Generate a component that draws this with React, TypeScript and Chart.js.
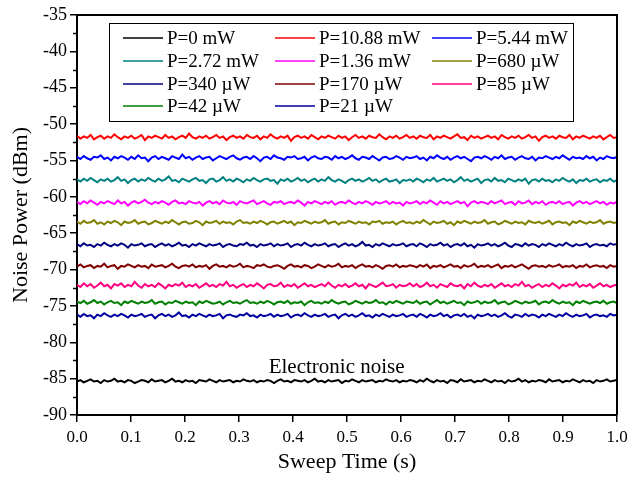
import React, { useEffect, useRef } from "react";
import { Chart, registerables } from "chart.js";

Chart.register(...registerables);

const FONT = '"Liberation Serif", "Times New Roman", serif';

const labels = [
  "P=0 mW", "P=10.88 mW", "P=5.44 mW",
  "P=2.72 mW", "P=1.36 mW", "P=680 \u00b5W",
  "P=340 \u00b5W", "P=170 \u00b5W", "P=85 \u00b5W",
  "P=42 \u00b5W", "P=21 \u00b5W",
];

const colors = [
  "#000000", "#FF0000", "#0000FF",
  "#008080", "#FF00FF", "#808000",
  "#000080", "#800000", "#FF0080",
  "#008000", "#0000A0",
];

const xTicks = [0, 0.1, 0.2, 0.3, 0.4, 0.5, 0.6, 0.7, 0.8, 0.9, 1.0];
const yTicks = [-90, -85, -80, -75, -70, -65, -60, -55, -50, -45, -40, -35];
const yMinorTicks = [-87.5, -82.5, -77.5, -72.5, -67.5, -62.5, -57.5, -52.5, -47.5, -42.5, -37.5];

const p0 = [-85.4,-85.2,-85.5,-85.3,-85.1,-85.4,-85.3,-85.6,-85.2,-85.4,
-85.3,-85.0,-85.4,-85.3,-85.5,-85.2,-85.3,-85.6,-85.4,-85.2,
-85.3,-85.5,-85.1,-85.4,-85.3,-85.2,-85.5,-85.3,-85.0,-85.4,
-85.3,-85.5,-85.2,-85.4,-85.3,-85.6,-85.2,-85.3,-85.4,-85.1,
-85.3,-85.5,-85.2,-85.4,-85.3,-85.2,-85.5,-85.3,-85.4,-85.1,
-85.3,-85.4,-85.2,-85.5,-85.3,-85.4,-85.2,-85.3,-85.6,-85.3,
-85.1,-85.4,-85.3,-85.5,-85.2,-85.3,-85.4,-85.2,-85.5,-85.3,
-85.0,-85.4,-85.3,-85.5,-85.2,-85.4,-85.3,-85.2,-85.6,-85.3,
-85.4,-85.1,-85.3,-85.5,-85.2,-85.4,-85.3,-85.2,-85.5,-85.3,
-85.4,-85.1,-85.3,-85.4,-85.2,-85.5,-85.3,-85.4,-85.2,-85.3,
-85.5,-85.2,-85.4,-85.0,-85.3,-85.5,-85.2,-85.4,-85.3,-85.6,
-85.2,-85.3,-85.5,-85.1,-85.4,-85.3,-85.2,-85.5,-85.3,-85.4,
-85.1,-85.3,-85.5,-85.2,-85.4,-85.3,-85.6,-85.2,-85.4,-85.3,
-85.0,-85.4,-85.2,-85.5,-85.3,-85.4,-85.2,-85.3,-85.5,-85.1,
-85.4,-85.3,-85.2,-85.5,-85.3,-85.4,-85.1,-85.3,-85.5,-85.2,
-85.4,-85.3,-85.6,-85.2,-85.4,-85.3,-85.1,-85.4,-85.3,-85.2];

const p10880 = [-51.6,-52.0,-51.7,-51.9,-51.5,-52.1,-51.8,-51.6,-52.0,-51.7,
-51.9,-51.4,-51.8,-52.1,-51.7,-51.9,-51.6,-52.0,-51.8,-51.5,
-52.2,-51.7,-51.9,-51.6,-51.8,-52.0,-51.5,-51.9,-51.7,-52.1,
-51.8,-51.6,-51.9,-51.3,-51.8,-52.0,-51.7,-51.9,-51.6,-52.0,
-51.8,-51.5,-51.9,-51.7,-52.2,-51.8,-51.6,-51.9,-51.7,-52.0,
-51.5,-51.8,-51.9,-51.6,-52.1,-51.7,-51.9,-51.4,-51.8,-52.0,
-51.7,-51.9,-51.6,-52.3,-51.8,-51.6,-51.9,-51.7,-52.0,-51.5,
-51.8,-52.1,-51.7,-51.9,-51.6,-51.8,-52.0,-51.6,-51.9,-51.7,
-52.2,-51.8,-51.5,-51.9,-51.7,-52.0,-51.6,-51.8,-51.9,-51.4,
-51.8,-52.1,-51.7,-51.9,-51.6,-52.0,-51.8,-51.5,-51.9,-51.7,
-52.0,-51.6,-51.8,-51.9,-51.5,-52.1,-51.7,-51.9,-51.6,-51.8,
-52.0,-51.7,-51.4,-51.9,-51.8,-52.2,-51.6,-51.9,-51.7,-52.0,
-51.8,-51.6,-51.9,-51.7,-52.1,-51.5,-51.8,-52.0,-51.7,-51.9,
-51.6,-52.0,-51.8,-51.5,-51.9,-51.7,-52.3,-51.8,-51.6,-51.9,
-51.7,-52.0,-51.6,-51.8,-51.9,-51.5,-52.1,-51.7,-51.9,-51.6,
-51.8,-52.0,-51.7,-51.9,-51.6,-52.1,-51.8,-51.5,-51.9,-51.8];

const p5440 = [-54.5,-54.8,-54.4,-54.7,-54.9,-54.5,-54.6,-54.3,-54.8,-54.6,
-55.0,-54.5,-54.7,-54.4,-54.6,-54.9,-54.5,-54.8,-54.3,-54.7,
-54.6,-55.1,-54.6,-54.4,-54.8,-54.5,-54.7,-54.9,-54.4,-54.6,
-54.8,-54.2,-54.7,-54.5,-54.9,-54.6,-54.4,-54.8,-54.6,-54.5,
-55.0,-54.7,-54.4,-54.6,-54.8,-54.5,-54.3,-54.7,-54.9,-54.6,
-54.5,-54.8,-54.4,-54.7,-55.1,-54.6,-54.5,-54.8,-54.3,-54.6,
-54.7,-54.9,-54.5,-54.6,-54.4,-54.8,-54.7,-54.5,-55.0,-54.6,
-54.4,-54.7,-54.8,-54.5,-54.6,-54.9,-54.4,-54.7,-54.5,-54.8,
-54.6,-54.3,-54.7,-54.9,-54.5,-54.6,-54.8,-54.4,-54.7,-55.0,
-54.6,-54.5,-54.8,-54.7,-54.4,-54.6,-54.9,-54.5,-54.7,-54.6,
-54.4,-54.8,-54.6,-55.0,-54.5,-54.7,-54.3,-54.6,-54.8,-54.5,
-54.9,-54.6,-54.4,-54.7,-54.5,-54.8,-55.1,-54.6,-54.5,-54.7,
-54.4,-54.6,-54.9,-54.5,-54.7,-54.3,-54.8,-54.6,-54.5,-54.9,
-54.6,-54.4,-54.7,-54.8,-54.5,-55.0,-54.6,-54.7,-54.4,-54.6,
-54.8,-54.5,-54.7,-54.3,-54.6,-54.9,-54.5,-54.7,-54.6,-54.8,
-54.4,-54.7,-54.5,-55.0,-54.6,-54.8,-54.4,-54.6,-54.7,-54.5];

const p2720 = [-57.6,-57.9,-57.5,-57.8,-57.4,-57.7,-58.0,-57.6,-57.8,-57.5,
-57.9,-57.7,-57.3,-57.8,-57.6,-58.1,-57.7,-57.5,-57.9,-57.6,
-57.8,-57.4,-57.7,-57.9,-57.5,-57.8,-57.6,-57.2,-57.8,-57.7,
-58.0,-57.5,-57.7,-57.9,-57.6,-57.4,-57.8,-57.7,-58.1,-57.6,
-57.5,-57.9,-57.7,-57.3,-57.8,-57.6,-57.9,-57.5,-57.7,-58.0,
-57.6,-57.8,-57.4,-57.7,-57.9,-57.6,-57.5,-57.8,-57.7,-58.2,
-57.6,-57.8,-57.5,-57.9,-57.7,-57.4,-57.8,-57.6,-58.0,-57.7,
-57.5,-57.9,-57.6,-57.8,-57.3,-57.7,-57.9,-57.6,-57.8,-58.1,
-57.7,-57.5,-57.8,-57.6,-57.9,-57.7,-57.4,-57.8,-57.6,-58.0,
-57.7,-57.5,-57.9,-57.8,-57.6,-58.1,-57.7,-57.8,-57.6,-57.9,
-57.5,-57.7,-58.0,-57.6,-57.8,-57.4,-57.9,-57.7,-57.5,-57.8,
-57.6,-58.0,-57.7,-57.3,-57.8,-57.6,-57.9,-57.7,-57.5,-58.1,
-57.7,-57.6,-57.9,-57.4,-57.8,-57.7,-58.0,-57.5,-57.7,-57.9,
-57.6,-57.8,-57.5,-58.2,-57.7,-57.6,-57.9,-57.5,-57.8,-57.7,
-58.0,-57.6,-57.8,-57.4,-57.7,-57.9,-57.6,-58.1,-57.7,-57.8,
-57.5,-57.9,-57.7,-57.6,-58.0,-57.7,-57.8,-57.5,-57.9,-57.7];

const p1360 = [-60.7,-61.0,-60.6,-60.9,-60.5,-60.8,-61.1,-60.7,-60.9,-60.6,
-60.8,-61.0,-60.5,-60.9,-60.7,-61.2,-60.8,-60.6,-60.9,-60.7,
-60.4,-60.8,-61.0,-60.7,-60.9,-60.6,-60.8,-61.1,-60.7,-60.5,
-60.9,-60.8,-61.0,-60.6,-60.8,-60.9,-60.7,-61.2,-60.8,-60.6,
-60.9,-60.7,-61.0,-60.5,-60.8,-60.9,-60.7,-61.1,-60.6,-60.8,
-60.9,-60.7,-60.5,-61.0,-60.8,-60.6,-60.9,-61.1,-60.7,-60.8,
-60.6,-61.0,-60.8,-60.7,-60.9,-60.5,-60.8,-61.2,-60.7,-60.9,
-60.6,-60.8,-61.0,-60.7,-60.9,-60.6,-61.1,-60.8,-60.7,-60.9,
-60.5,-60.8,-61.0,-60.7,-60.9,-60.6,-60.8,-61.1,-60.7,-60.9,
-60.8,-60.6,-61.0,-60.7,-60.9,-60.8,-61.2,-60.7,-60.9,-60.8,
-60.6,-61.0,-60.7,-60.9,-60.5,-60.8,-61.1,-60.6,-60.9,-60.7,
-61.0,-60.8,-60.6,-60.9,-60.7,-61.3,-60.8,-60.6,-60.9,-60.7,
-60.8,-61.0,-60.6,-60.9,-60.7,-60.5,-61.0,-60.8,-60.7,-61.1,
-60.6,-60.9,-60.8,-60.5,-61.0,-60.7,-60.9,-60.6,-61.1,-60.8,
-60.7,-60.9,-60.6,-61.0,-60.8,-60.7,-61.2,-60.8,-60.6,-60.9,
-60.7,-61.0,-60.8,-60.6,-60.9,-60.7,-61.1,-60.8,-60.9,-60.7];

const p680 = [-63.4,-63.7,-63.3,-63.6,-63.5,-63.2,-63.7,-63.5,-63.8,-63.4,
-63.6,-63.3,-63.5,-63.9,-63.4,-63.6,-63.5,-63.2,-63.7,-63.5,
-63.4,-63.8,-63.6,-63.3,-63.5,-63.7,-63.4,-63.6,-63.2,-63.5,
-63.8,-63.5,-63.4,-63.7,-63.6,-63.3,-63.5,-63.9,-63.4,-63.6,
-63.5,-63.3,-63.7,-63.4,-63.6,-63.5,-63.8,-63.4,-63.2,-63.6,
-63.5,-63.7,-63.4,-63.6,-63.3,-63.5,-63.8,-63.5,-63.4,-63.7,
-63.5,-63.3,-63.6,-63.4,-63.9,-63.5,-63.6,-63.3,-63.5,-63.7,
-63.4,-63.6,-63.5,-63.2,-63.7,-63.5,-63.4,-63.8,-63.5,-63.6,
-63.3,-63.5,-63.7,-63.4,-63.6,-63.5,-63.8,-63.4,-63.5,-63.3,
-63.7,-63.5,-63.6,-63.4,-63.8,-63.5,-63.3,-63.6,-63.5,-63.7,
-63.4,-63.6,-63.2,-63.5,-63.8,-63.4,-63.6,-63.5,-63.3,-63.7,
-63.5,-63.9,-63.4,-63.6,-63.3,-63.5,-63.7,-63.4,-63.6,-63.5,
-63.2,-63.7,-63.5,-63.4,-63.8,-63.6,-63.3,-63.5,-63.7,-63.4,
-63.6,-63.5,-63.8,-63.3,-63.5,-63.6,-63.4,-63.7,-63.5,-63.3,
-63.8,-63.5,-63.4,-63.6,-63.5,-63.9,-63.4,-63.6,-63.3,-63.5,
-63.7,-63.4,-63.6,-63.5,-63.2,-63.7,-63.5,-63.4,-63.6,-63.5];

const p340 = [-66.5,-66.8,-66.4,-66.7,-66.6,-66.9,-66.5,-66.7,-66.3,-66.6,
-66.8,-66.5,-66.7,-66.4,-66.6,-67.0,-66.5,-66.7,-66.6,-66.4,
-66.8,-66.6,-66.5,-66.9,-66.6,-66.4,-66.7,-66.5,-66.8,-66.6,
-66.3,-66.7,-66.6,-66.9,-66.5,-66.7,-66.4,-66.6,-66.8,-66.5,
-66.7,-66.6,-66.4,-66.9,-66.6,-66.5,-66.7,-66.8,-66.5,-66.6,
-66.3,-66.7,-66.6,-66.9,-66.5,-66.7,-66.6,-66.4,-66.8,-66.5,
-66.7,-66.6,-66.4,-66.9,-66.6,-66.5,-66.7,-66.3,-66.6,-66.8,
-66.5,-66.7,-66.6,-66.4,-66.8,-66.6,-66.5,-66.9,-66.6,-66.4,
-66.7,-66.5,-66.8,-66.6,-66.2,-66.7,-66.6,-66.9,-66.5,-66.7,
-66.4,-66.6,-66.8,-66.5,-66.7,-66.6,-66.4,-66.8,-66.6,-66.5,
-66.8,-66.4,-66.6,-66.9,-66.5,-66.7,-66.6,-66.3,-66.7,-66.5,
-66.9,-66.6,-66.5,-66.7,-66.4,-66.8,-66.6,-67.0,-66.5,-66.7,
-66.6,-66.4,-66.7,-66.5,-66.8,-66.6,-66.3,-66.7,-66.9,-66.5,
-66.6,-66.8,-66.4,-66.7,-66.5,-66.6,-66.9,-66.5,-66.7,-66.4,
-66.6,-66.8,-66.5,-66.7,-66.3,-66.6,-66.8,-66.5,-66.7,-66.6,
-66.4,-66.9,-66.6,-66.5,-66.7,-66.6,-66.8,-66.4,-66.6,-66.5];

const p170 = [-69.6,-69.3,-69.7,-69.5,-69.4,-69.8,-69.5,-69.6,-69.2,-69.7,
-69.5,-69.4,-69.9,-69.5,-69.6,-69.3,-69.5,-69.7,-69.4,-69.6,
-69.5,-69.8,-69.3,-69.6,-69.5,-69.4,-69.7,-69.5,-69.2,-69.6,
-69.8,-69.5,-69.4,-69.6,-69.3,-69.7,-69.5,-69.6,-69.4,-69.9,
-69.5,-69.3,-69.6,-69.5,-69.7,-69.4,-69.6,-69.5,-69.2,-69.7,
-69.5,-69.6,-69.8,-69.4,-69.5,-69.3,-69.6,-69.7,-69.5,-69.4,
-69.6,-69.9,-69.5,-69.3,-69.6,-69.5,-69.7,-69.4,-69.5,-69.8,
-69.6,-69.3,-69.5,-69.7,-69.4,-69.6,-69.5,-69.2,-69.7,-69.5,
-69.6,-69.4,-69.8,-69.5,-69.3,-69.6,-69.5,-69.7,-69.4,-69.6,
-69.9,-69.5,-69.4,-69.6,-69.3,-69.7,-69.5,-69.6,-69.4,-69.5,
-69.7,-69.4,-69.6,-69.3,-69.8,-69.5,-69.6,-69.4,-69.7,-69.5,
-69.3,-69.6,-69.5,-69.8,-69.4,-69.6,-69.5,-69.2,-69.7,-69.5,
-69.6,-69.4,-69.7,-69.5,-69.3,-69.8,-69.5,-69.6,-69.4,-69.7,
-69.5,-69.3,-69.6,-69.9,-69.5,-69.4,-69.6,-69.5,-69.7,-69.4,
-69.6,-69.5,-69.3,-69.7,-69.5,-69.6,-69.4,-69.8,-69.5,-69.6,
-69.3,-69.7,-69.5,-69.4,-69.6,-69.5,-69.8,-69.4,-69.6,-69.5];

const p85 = [-72.1,-72.4,-71.9,-72.3,-72.0,-72.5,-72.2,-71.8,-72.3,-72.1,
-72.6,-72.0,-72.2,-71.9,-72.4,-72.1,-72.3,-71.7,-72.2,-72.5,
-72.0,-72.3,-72.1,-72.4,-71.9,-72.2,-72.6,-72.1,-72.3,-72.0,
-72.2,-71.8,-72.4,-72.1,-72.3,-72.0,-72.5,-72.2,-71.9,-72.3,
-72.1,-72.4,-72.0,-72.2,-71.7,-72.3,-72.1,-72.5,-72.2,-72.0,
-72.4,-72.1,-72.3,-71.9,-72.2,-72.6,-72.1,-72.0,-72.3,-72.2,
-71.8,-72.4,-72.1,-72.3,-72.0,-72.5,-72.2,-71.9,-72.3,-72.1,
-72.4,-72.2,-72.0,-72.3,-71.8,-72.2,-72.5,-72.1,-72.3,-72.0,
-72.4,-72.2,-71.9,-72.3,-72.1,-72.6,-72.0,-72.2,-72.4,-72.1,
-71.8,-72.3,-72.2,-72.0,-72.5,-72.1,-72.3,-72.2,-71.9,-72.3,
-72.0,-72.4,-72.2,-71.8,-72.3,-72.1,-72.5,-72.0,-72.2,-72.4,
-71.9,-72.2,-72.3,-72.1,-72.6,-72.0,-72.3,-71.8,-72.2,-72.4,
-72.1,-72.3,-72.0,-72.5,-72.2,-71.9,-72.3,-72.1,-72.4,-72.0,
-72.2,-71.7,-72.3,-72.1,-72.5,-72.2,-72.0,-72.4,-72.1,-72.3,
-71.9,-72.2,-72.6,-72.1,-72.3,-72.0,-72.2,-71.8,-72.4,-72.1,
-72.3,-72.0,-72.5,-72.2,-71.9,-72.3,-72.1,-72.4,-72.2,-72.1];

const p42 = [-74.4,-74.6,-74.3,-74.7,-74.5,-74.2,-74.6,-74.4,-74.8,-74.5,
-74.3,-74.6,-74.5,-74.9,-74.4,-74.6,-74.3,-74.5,-74.7,-74.4,
-74.6,-74.5,-74.2,-74.7,-74.5,-74.4,-74.8,-74.5,-74.6,-74.3,
-74.5,-74.7,-74.4,-74.6,-74.5,-74.9,-74.4,-74.6,-74.3,-74.5,
-74.7,-74.6,-74.4,-74.8,-74.5,-74.3,-74.6,-74.5,-74.7,-74.4,
-74.2,-74.6,-74.5,-74.7,-74.4,-74.6,-74.3,-74.5,-74.8,-74.5,
-74.4,-74.6,-74.3,-74.7,-74.5,-74.6,-74.4,-74.9,-74.5,-74.3,
-74.6,-74.5,-74.7,-74.4,-74.6,-74.2,-74.5,-74.7,-74.5,-74.4,
-74.8,-74.6,-74.3,-74.5,-74.7,-74.4,-74.6,-74.5,-74.2,-74.6,
-74.5,-74.8,-74.4,-74.6,-74.3,-74.5,-74.7,-74.4,-74.5,-74.6,
-74.3,-74.7,-74.5,-74.4,-74.8,-74.5,-74.2,-74.6,-74.4,-74.7,
-74.5,-74.3,-74.6,-74.5,-74.9,-74.4,-74.6,-74.5,-74.3,-74.7,
-74.4,-74.6,-74.5,-74.2,-74.7,-74.5,-74.4,-74.8,-74.6,-74.3,
-74.5,-74.7,-74.4,-74.6,-74.5,-74.3,-74.8,-74.5,-74.4,-74.6,
-74.2,-74.5,-74.7,-74.4,-74.6,-74.5,-74.9,-74.4,-74.6,-74.3,
-74.5,-74.7,-74.5,-74.4,-74.6,-74.3,-74.7,-74.5,-74.4,-74.6];

const p21 = [-76.2,-76.5,-76.1,-76.4,-76.3,-76.7,-76.2,-76.4,-76.0,-76.3,
-76.5,-76.2,-76.4,-76.1,-76.3,-76.6,-76.2,-76.4,-76.3,-76.1,
-76.5,-76.3,-76.2,-76.7,-76.3,-76.1,-76.4,-76.2,-76.5,-76.3,
-75.9,-76.4,-76.3,-76.6,-76.2,-76.4,-76.1,-76.3,-76.5,-76.2,
-76.4,-76.3,-76.1,-76.7,-76.3,-76.2,-76.4,-76.5,-76.2,-76.3,
-76.0,-76.4,-76.3,-76.6,-76.2,-76.4,-76.3,-76.1,-76.5,-76.2,
-76.4,-76.3,-76.1,-76.6,-76.3,-76.2,-76.4,-76.0,-76.3,-76.5,
-76.2,-76.4,-76.3,-76.1,-76.5,-76.3,-76.2,-76.7,-76.3,-76.1,
-76.4,-76.2,-76.5,-76.3,-76.0,-76.4,-76.3,-76.6,-76.2,-76.4,
-76.1,-76.3,-76.5,-76.2,-76.4,-76.3,-76.1,-76.5,-76.3,-76.2,
-76.5,-76.1,-76.3,-76.6,-76.2,-76.4,-76.3,-76.0,-76.4,-76.2,
-76.6,-76.3,-76.2,-76.4,-76.1,-76.5,-76.3,-76.7,-76.2,-76.4,
-76.3,-76.1,-76.4,-76.2,-76.5,-76.3,-76.0,-76.4,-76.6,-76.2,
-76.3,-76.5,-76.1,-76.4,-76.2,-76.3,-76.6,-76.2,-76.4,-76.1,
-76.3,-76.5,-76.2,-76.4,-76.0,-76.3,-76.5,-76.2,-76.4,-76.3,
-76.1,-76.6,-76.3,-76.2,-76.4,-76.3,-76.5,-76.1,-76.3,-76.2];

const seriesValues = [p0, p10880, p5440, p2720, p1360, p680, p340, p170, p85, p42, p21];

const annotationText = "Electronic noise";
const annotationX = 0.355;
const annotationY = -84.2;

const toPoints = (vals: number[]) =>
  vals.map((v, i) => ({ x: i / (vals.length - 1), y: v }));

const framePlugin = {
  id: "frameAndExtras",
  afterDraw(chart: any) {
    const { ctx, chartArea } = chart;
    const { left, right, top, bottom } = chartArea;
    const yScale = chart.scales.y;
    const xScale = chart.scales.x;
    ctx.save();
    ctx.strokeStyle = "#000";
    ctx.lineWidth = 2;
    ctx.beginPath();
    ctx.moveTo(left - 1, top);
    ctx.lineTo(right, top);
    ctx.lineTo(right, bottom);
    ctx.stroke();
    ctx.lineWidth = 1.5;
    ctx.beginPath();
    yMinorTicks.forEach((v) => {
      const py = Math.round(yScale.getPixelForValue(v)) + 0.5;
      ctx.moveTo(left - 4, py);
      ctx.lineTo(left, py);
    });
    ctx.stroke();
    const bx = 109, by = 23, bw = 464, bh = 98;
    ctx.fillStyle = "#fff";
    ctx.fillRect(bx, by, bw, bh);
    ctx.lineWidth = 1;
    ctx.strokeStyle = "#000";
    ctx.strokeRect(bx + 0.5, by + 0.5, bw, bh);
    const colX = [123, 275, 432];
    const rowY = [38, 61, 84, 106];
    ctx.font = `19px ${FONT}`;
    ctx.textBaseline = "middle";
    ctx.textAlign = "left";
    chart.data.datasets.forEach((ds: any, i: number) => {
      const cx = colX[i % 3];
      const cy = rowY[Math.floor(i / 3)];
      ctx.strokeStyle = ds.borderColor;
      ctx.lineWidth = 1.5;
      ctx.beginPath();
      ctx.moveTo(cx, cy);
      ctx.lineTo(cx + 40, cy);
      ctx.stroke();
      ctx.fillStyle = "#000";
      ctx.fillText(ds.label, cx + 44, cy + 1);
    });
    ctx.font = `21px ${FONT}`;
    ctx.fillStyle = "#000";
    ctx.textBaseline = "alphabetic";
    ctx.fillText(
      annotationText,
      xScale.getPixelForValue(annotationX),
      yScale.getPixelForValue(annotationY)
    );
    ctx.restore();
  },
};

export default function App() {
  const ref = useRef<HTMLCanvasElement | null>(null);
  useEffect(() => {
    document.body.style.margin = "0";
    if (!ref.current) return;
    const chart = new Chart(ref.current, {
      type: "line",
      data: {
        datasets: seriesValues.map((vals, i) => ({
          label: labels[i],
          data: toPoints(vals),
          borderColor: colors[i],
          backgroundColor: colors[i],
          borderWidth: 2,
          pointRadius: 0,
          tension: 0,
          fill: false,
        })),
      },
      options: {
        animation: false,
        responsive: true,
        maintainAspectRatio: false,
        layout: { padding: { top: 15, right: 13, left: 0, bottom: 0 } },
        plugins: { legend: { display: false }, tooltip: { enabled: false } },
        scales: {
          x: {
            type: "linear",
            min: 0,
            max: 1,
            afterBuildTicks: (s: any) => {
              s.ticks = xTicks.map((v) => ({ value: v }));
            },
            afterFit: (s: any) => {
              s.height = 65;
              s.paddingLeft = 0;
              s.paddingRight = 0;
            },
            ticks: {
              color: "#000",
              font: { family: FONT, size: 17 },
              padding: 5,
              maxRotation: 0,
              callback: (v: any) => Number(v).toFixed(1),
            },
            grid: {
              drawOnChartArea: false,
              drawTicks: true,
              tickLength: 7,
              color: "#000",
              lineWidth: 1.5,
            },
            border: { display: true, color: "#000", width: 2 },
            title: {
              display: true,
              text: "Sweep Time (s)",
              color: "#000",
              font: { family: FONT, size: 22 },
              padding: { top: 0, bottom: 5 },
            },
          },
          y: {
            type: "linear",
            min: -90,
            max: -35,
            afterBuildTicks: (s: any) => {
              s.ticks = yTicks.map((v) => ({ value: v }));
            },
            afterFit: (s: any) => {
              s.width = 77;
              s.paddingTop = 0;
              s.paddingBottom = 0;
            },
            ticks: {
              color: "#000",
              font: { family: FONT, size: 18 },
              padding: 3,
              callback: (v: any) => String(v),
            },
            grid: {
              drawOnChartArea: false,
              drawTicks: true,
              tickLength: 7,
              color: "#000",
              lineWidth: 1.5,
            },
            border: { display: true, color: "#000", width: 2 },
            title: {
              display: true,
              text: "Noise Power (dBm)",
              color: "#000",
              font: { family: FONT, size: 22 },
              padding: { top: 8, bottom: 0 },
            },
          },
        },
      },
      plugins: [framePlugin],
    });
    return () => chart.destroy();
  }, []);
  return (
    <div style={{ width: 630, height: 480, position: "relative" }}>
      <canvas ref={ref} />
    </div>
  );
}
